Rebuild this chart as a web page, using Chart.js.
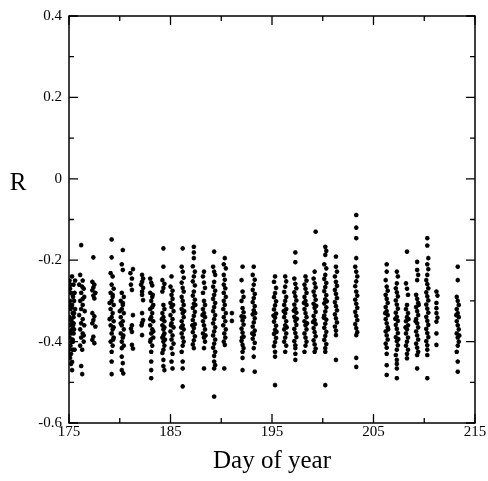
<!DOCTYPE html>
<html>
<head>
<meta charset="utf-8">
<script src="https://cdn.jsdelivr.net/npm/chart.js@4/dist/chart.umd.min.js"></script>
<style>
html,body{margin:0;padding:0;background:#fff;}
canvas{display:block;}
</style>
</head>
<body>
<canvas id="c" width="488" height="481"></canvas>
<script>
// ---- tick labels ----
const xTicks = [175, 185, 195, 205, 215];
const xMinor = [180, 190, 200, 210];
const yTicks = [-0.6, -0.4, -0.2, 0, 0.2, 0.4];
const yMinor = [-0.5, -0.3, -0.1, 0.1, 0.3];

// ---- observations: [day of year, R] grouped by day ----
const day175 = [[175.05,-0.25],[175.1,-0.27],[175.3,-0.24],[175.45,-0.26],[175.2,-0.28],[175.4,-0.29],[175.1,-0.30],[175.3,-0.31],[175.5,-0.30],[175.15,-0.32],[175.35,-0.33],[175.05,-0.34],[175.25,-0.35],[175.45,-0.34],[175.1,-0.36],[175.3,-0.37],[175.2,-0.38],[175.4,-0.36],[175.05,-0.39],[175.25,-0.40],[175.45,-0.38],[175.15,-0.41],[175.35,-0.42],[175.2,-0.43],[175.4,-0.40],[175.1,-0.44],[175.3,-0.45],[175.5,-0.33],[175.55,-0.28],[175.15,-0.26],[175.35,-0.285],[175.25,-0.315],[175.45,-0.355],[175.05,-0.375],[175.35,-0.395],[175.2,-0.345],[175.6,-0.25],[175.55,-0.42],[175.3,-0.47],[175.2,-0.455],[175.5,-0.37],[175.0,-0.31],[175.6,-0.32],[175.0,-0.42]];
const day176 = [[176.2,-0.163],[176.1,-0.236],[176.35,-0.25],[176.0,-0.26],[176.45,-0.27],[176.2,-0.28],[176.5,-0.29],[176.1,-0.30],[176.35,-0.31],[176.2,-0.32],[176.55,-0.325],[176.0,-0.335],[176.35,-0.345],[176.2,-0.355],[176.5,-0.36],[176.1,-0.37],[176.35,-0.38],[176.2,-0.39],[176.45,-0.40],[176.1,-0.41],[176.35,-0.295],[176.3,-0.265],[176.45,-0.385],[176.3,-0.42],[176.2,-0.46],[176.3,-0.48]];
const day177 = [[177.4,-0.193],[177.3,-0.253],[177.5,-0.26],[177.4,-0.267],[177.3,-0.274],[177.6,-0.28],[177.4,-0.287],[177.5,-0.294],[177.3,-0.33],[177.5,-0.338],[177.4,-0.347],[177.3,-0.355],[177.6,-0.363],[177.4,-0.388],[177.3,-0.396],[177.5,-0.404]];
const day179 = [[179.2,-0.149],[179.2,-0.193],[179.1,-0.232],[179.3,-0.24],[179.2,-0.26],[179.4,-0.27],[179.1,-0.28],[179.3,-0.29],[179.2,-0.30],[179.4,-0.31],[179.1,-0.32],[179.3,-0.33],[179.2,-0.34],[179.4,-0.35],[179.1,-0.36],[179.3,-0.37],[179.2,-0.38],[179.4,-0.39],[179.1,-0.40],[179.3,-0.41],[179.2,-0.425],[179.3,-0.285],[179.0,-0.345],[179.4,-0.365],[179.2,-0.449],[179.2,-0.48],[179.0,-0.305],[179.35,-0.395]];
const day180 = [[180.3,-0.175],[180.2,-0.21],[180.3,-0.224],[180.2,-0.28],[180.4,-0.29],[180.1,-0.30],[180.3,-0.31],[180.2,-0.32],[180.4,-0.33],[180.1,-0.34],[180.3,-0.35],[180.2,-0.36],[180.4,-0.37],[180.1,-0.38],[180.3,-0.39],[180.2,-0.40],[180.4,-0.41],[180.2,-0.416],[180.3,-0.305],[180.1,-0.355],[180.2,-0.437],[180.3,-0.453],[180.2,-0.47],[180.35,-0.478],[180.0,-0.325],[180.35,-0.385]];
const day181 = [[181.05,-0.232],[181.3,-0.222],[181.2,-0.245],[181.1,-0.26],[181.2,-0.273],[181.3,-0.335],[181.2,-0.36],[181.1,-0.368],[181.2,-0.376],[181.2,-0.408],[181.3,-0.417]];
const day182 = [[182.2,-0.236],[182.3,-0.245],[182.2,-0.253],[182.1,-0.26],[182.3,-0.268],[182.2,-0.277],[182.2,-0.285],[182.3,-0.298],[182.2,-0.33],[182.3,-0.347],[182.2,-0.354],[182.15,-0.36],[182.2,-0.384]];
const day183 = [[183.0,-0.245],[183.1,-0.255],[183.2,-0.262],[183.0,-0.28],[183.2,-0.29],[183.1,-0.30],[183.3,-0.31],[183.0,-0.32],[183.2,-0.33],[183.1,-0.34],[183.3,-0.35],[183.0,-0.36],[183.2,-0.37],[183.1,-0.38],[183.3,-0.39],[183.0,-0.40],[183.2,-0.41],[183.1,-0.425],[183.2,-0.315],[183.0,-0.345],[183.3,-0.375],[183.1,-0.449],[183.1,-0.47],[183.1,-0.49],[183.25,-0.285],[183.05,-0.395]];
const day184 = [[184.3,-0.171],[184.3,-0.216],[184.2,-0.249],[184.4,-0.258],[184.3,-0.268],[184.2,-0.277],[184.3,-0.31],[184.4,-0.32],[184.2,-0.33],[184.3,-0.34],[184.4,-0.35],[184.2,-0.36],[184.3,-0.37],[184.4,-0.38],[184.2,-0.39],[184.3,-0.40],[184.4,-0.41],[184.3,-0.42],[184.2,-0.428],[184.4,-0.365],[184.3,-0.385],[184.3,-0.445],[184.3,-0.46],[184.4,-0.47],[184.15,-0.345],[184.45,-0.395]];
const day185 = [[185.1,-0.24],[185.0,-0.265],[185.2,-0.275],[185.1,-0.285],[185.2,-0.295],[185.0,-0.305],[185.1,-0.315],[185.3,-0.325],[185.0,-0.335],[185.2,-0.345],[185.1,-0.355],[185.3,-0.365],[185.0,-0.375],[185.2,-0.385],[185.1,-0.395],[185.3,-0.405],[185.1,-0.416],[185.2,-0.43],[185.1,-0.449],[185.2,-0.466],[185.25,-0.31],[185.05,-0.36]];
const day186 = [[186.2,-0.171],[186.1,-0.216],[186.2,-0.228],[186.3,-0.243],[186.1,-0.255],[186.2,-0.268],[186.3,-0.277],[186.1,-0.29],[186.2,-0.30],[186.3,-0.31],[186.1,-0.32],[186.2,-0.33],[186.3,-0.34],[186.1,-0.35],[186.2,-0.36],[186.3,-0.37],[186.1,-0.38],[186.2,-0.39],[186.3,-0.40],[186.2,-0.41],[186.1,-0.425],[186.2,-0.449],[186.2,-0.466],[186.2,-0.51],[186.35,-0.325],[186.05,-0.365]];
const day187 = [[187.3,-0.167],[187.3,-0.181],[187.3,-0.195],[187.2,-0.215],[187.4,-0.228],[187.3,-0.24],[187.2,-0.252],[187.4,-0.262],[187.3,-0.277],[187.2,-0.287],[187.4,-0.297],[187.3,-0.307],[187.2,-0.317],[187.4,-0.327],[187.3,-0.337],[187.2,-0.347],[187.4,-0.357],[187.3,-0.367],[187.2,-0.377],[187.4,-0.387],[187.3,-0.397],[187.2,-0.407],[187.3,-0.416],[187.45,-0.31],[187.15,-0.36]];
const day188 = [[188.3,-0.228],[188.2,-0.24],[188.3,-0.255],[188.4,-0.268],[188.2,-0.28],[188.3,-0.30],[188.4,-0.31],[188.2,-0.32],[188.3,-0.33],[188.4,-0.34],[188.2,-0.35],[188.3,-0.36],[188.4,-0.37],[188.2,-0.38],[188.3,-0.39],[188.4,-0.40],[188.3,-0.416],[188.3,-0.466],[188.15,-0.335],[188.45,-0.385]];
const day189 = [[189.3,-0.179],[189.2,-0.216],[189.3,-0.228],[189.4,-0.236],[189.3,-0.253],[189.2,-0.265],[189.4,-0.275],[189.3,-0.285],[189.2,-0.295],[189.4,-0.305],[189.3,-0.315],[189.2,-0.325],[189.4,-0.335],[189.3,-0.345],[189.2,-0.355],[189.4,-0.365],[189.3,-0.375],[189.2,-0.385],[189.4,-0.395],[189.3,-0.405],[189.2,-0.415],[189.4,-0.425],[189.3,-0.435],[189.3,-0.449],[189.4,-0.458],[189.3,-0.466],[189.3,-0.535]];
const day190 = [[190.35,-0.195],[190.25,-0.21],[190.45,-0.22],[190.25,-0.236],[190.35,-0.248],[190.25,-0.26],[190.4,-0.269],[190.25,-0.28],[190.45,-0.29],[190.25,-0.30],[190.35,-0.31],[190.2,-0.32],[190.45,-0.33],[190.25,-0.34],[190.4,-0.35],[190.2,-0.36],[190.45,-0.37],[190.3,-0.38],[190.4,-0.39],[190.25,-0.40],[190.35,-0.408],[190.3,-0.466]];
const day191 = [[191.05,-0.33],[191.05,-0.349]];
const day192 = [[192.1,-0.216],[192.0,-0.249],[192.1,-0.277],[192.2,-0.29],[192.0,-0.30],[192.1,-0.318],[192.2,-0.328],[192.0,-0.338],[192.1,-0.348],[192.2,-0.358],[192.0,-0.368],[192.1,-0.378],[192.2,-0.388],[192.0,-0.398],[192.1,-0.408],[192.2,-0.416],[192.1,-0.425],[192.1,-0.44],[192.1,-0.47],[192.25,-0.34],[192.05,-0.39]];
const day193 = [[193.2,-0.216],[193.1,-0.236],[193.3,-0.248],[193.2,-0.26],[193.1,-0.273],[193.3,-0.283],[193.2,-0.293],[193.1,-0.303],[193.3,-0.313],[193.2,-0.323],[193.1,-0.333],[193.3,-0.343],[193.2,-0.353],[193.1,-0.363],[193.3,-0.373],[193.2,-0.383],[193.1,-0.393],[193.3,-0.403],[193.2,-0.416],[193.2,-0.437],[193.3,-0.474],[193.35,-0.33],[193.05,-0.38]];
const day195 = [[195.3,-0.24],[195.2,-0.253],[195.4,-0.268],[195.3,-0.281],[195.2,-0.291],[195.4,-0.301],[195.3,-0.311],[195.2,-0.321],[195.4,-0.331],[195.3,-0.341],[195.2,-0.351],[195.4,-0.361],[195.3,-0.371],[195.2,-0.381],[195.4,-0.391],[195.3,-0.401],[195.2,-0.411],[195.3,-0.425],[195.3,-0.437],[195.3,-0.507],[195.15,-0.336],[195.45,-0.376]];
const day196 = [[196.3,-0.24],[196.4,-0.252],[196.3,-0.265],[196.2,-0.278],[196.4,-0.29],[196.3,-0.30],[196.2,-0.31],[196.4,-0.32],[196.3,-0.33],[196.2,-0.34],[196.4,-0.35],[196.3,-0.36],[196.2,-0.37],[196.4,-0.38],[196.3,-0.39],[196.2,-0.40],[196.4,-0.41],[196.3,-0.425],[196.15,-0.325],[196.45,-0.365]];
const day197 = [[197.3,-0.181],[197.3,-0.205],[197.2,-0.245],[197.3,-0.258],[197.4,-0.269],[197.2,-0.279],[197.3,-0.289],[197.4,-0.299],[197.2,-0.309],[197.3,-0.319],[197.4,-0.329],[197.2,-0.339],[197.3,-0.349],[197.4,-0.359],[197.2,-0.369],[197.3,-0.379],[197.4,-0.389],[197.2,-0.399],[197.3,-0.409],[197.3,-0.416],[197.3,-0.43],[197.3,-0.445],[197.15,-0.324],[197.45,-0.344]];
const day198 = [[198.3,-0.24],[198.4,-0.25],[198.2,-0.26],[198.3,-0.27],[198.4,-0.28],[198.2,-0.29],[198.3,-0.30],[198.4,-0.31],[198.2,-0.32],[198.3,-0.33],[198.4,-0.34],[198.2,-0.35],[198.3,-0.36],[198.4,-0.37],[198.2,-0.38],[198.3,-0.39],[198.4,-0.40],[198.3,-0.41],[198.2,-0.425],[198.15,-0.305],[198.45,-0.355]];
const day199 = [[199.3,-0.13],[199.2,-0.228],[199.1,-0.245],[199.2,-0.257],[199.3,-0.267],[199.1,-0.277],[199.2,-0.287],[199.3,-0.297],[199.1,-0.307],[199.2,-0.317],[199.3,-0.327],[199.1,-0.337],[199.2,-0.347],[199.3,-0.357],[199.1,-0.367],[199.2,-0.377],[199.3,-0.387],[199.1,-0.397],[199.2,-0.407],[199.3,-0.417],[199.2,-0.425],[199.35,-0.312],[199.05,-0.352]];
const day200 = [[200.25,-0.167],[200.35,-0.177],[200.25,-0.187],[200.15,-0.21],[200.35,-0.22],[200.25,-0.236],[200.15,-0.246],[200.35,-0.256],[200.25,-0.266],[200.15,-0.276],[200.35,-0.286],[200.25,-0.296],[200.15,-0.306],[200.35,-0.316],[200.25,-0.326],[200.15,-0.336],[200.35,-0.346],[200.25,-0.356],[200.15,-0.366],[200.35,-0.376],[200.25,-0.386],[200.15,-0.396],[200.35,-0.406],[200.25,-0.416],[200.25,-0.425],[200.25,-0.507],[200.4,-0.301],[200.1,-0.341]];
const day201 = [[201.3,-0.191],[201.3,-0.216],[201.4,-0.228],[201.2,-0.24],[201.3,-0.253],[201.4,-0.263],[201.2,-0.273],[201.3,-0.283],[201.4,-0.293],[201.2,-0.303],[201.3,-0.313],[201.4,-0.323],[201.2,-0.333],[201.3,-0.343],[201.4,-0.353],[201.2,-0.363],[201.3,-0.373],[201.3,-0.384],[201.3,-0.445]];
const day203 = [[203.3,-0.089],[203.3,-0.12],[203.3,-0.146],[203.3,-0.195],[203.2,-0.216],[203.3,-0.228],[203.4,-0.24],[203.3,-0.252],[203.2,-0.264],[203.3,-0.277],[203.4,-0.287],[203.2,-0.297],[203.3,-0.307],[203.4,-0.317],[203.2,-0.327],[203.3,-0.337],[203.4,-0.347],[203.2,-0.357],[203.3,-0.367],[203.4,-0.377],[203.3,-0.384],[203.3,-0.44],[203.3,-0.462]];
const day206 = [[206.3,-0.21],[206.3,-0.228],[206.2,-0.249],[206.3,-0.265],[206.4,-0.275],[206.2,-0.285],[206.3,-0.295],[206.4,-0.305],[206.2,-0.315],[206.3,-0.325],[206.4,-0.335],[206.2,-0.345],[206.3,-0.355],[206.4,-0.365],[206.2,-0.375],[206.3,-0.385],[206.4,-0.395],[206.2,-0.405],[206.3,-0.415],[206.3,-0.43],[206.3,-0.458],[206.3,-0.482],[206.15,-0.33],[206.45,-0.37]];
const day207 = [[207.3,-0.228],[207.4,-0.24],[207.3,-0.257],[207.2,-0.269],[207.3,-0.279],[207.4,-0.289],[207.2,-0.299],[207.3,-0.309],[207.4,-0.319],[207.2,-0.329],[207.3,-0.339],[207.4,-0.349],[207.2,-0.359],[207.3,-0.369],[207.4,-0.379],[207.2,-0.389],[207.3,-0.399],[207.4,-0.409],[207.3,-0.42],[207.2,-0.433],[207.3,-0.445],[207.3,-0.455],[207.3,-0.466],[207.3,-0.49],[207.15,-0.344],[207.45,-0.394]];
const day208 = [[208.3,-0.179],[208.2,-0.257],[208.3,-0.27],[208.4,-0.285],[208.3,-0.31],[208.2,-0.32],[208.4,-0.33],[208.3,-0.34],[208.2,-0.35],[208.4,-0.36],[208.3,-0.37],[208.2,-0.38],[208.4,-0.39],[208.3,-0.40],[208.2,-0.41],[208.4,-0.42],[208.3,-0.43],[208.3,-0.441],[208.15,-0.365],[208.45,-0.345]];
const day209 = [[209.3,-0.204],[209.3,-0.224],[209.4,-0.236],[209.3,-0.249],[209.2,-0.285],[209.3,-0.295],[209.4,-0.305],[209.2,-0.315],[209.3,-0.325],[209.4,-0.335],[209.2,-0.345],[209.3,-0.355],[209.4,-0.365],[209.2,-0.375],[209.3,-0.385],[209.4,-0.395],[209.2,-0.405],[209.3,-0.415],[209.4,-0.425],[209.3,-0.433],[209.3,-0.466],[209.15,-0.35],[209.45,-0.31]];
const day210 = [[210.3,-0.146],[210.3,-0.164],[210.4,-0.195],[210.3,-0.21],[210.4,-0.222],[210.3,-0.236],[210.2,-0.249],[210.3,-0.259],[210.4,-0.269],[210.2,-0.279],[210.3,-0.289],[210.4,-0.299],[210.2,-0.309],[210.3,-0.319],[210.4,-0.329],[210.2,-0.339],[210.3,-0.349],[210.4,-0.359],[210.2,-0.369],[210.3,-0.379],[210.4,-0.389],[210.2,-0.399],[210.3,-0.409],[210.3,-0.42],[210.3,-0.433],[210.3,-0.49]];
const day211 = [[211.2,-0.277],[211.3,-0.287],[211.2,-0.305],[211.2,-0.318],[211.2,-0.33],[211.3,-0.341],[211.2,-0.351],[211.2,-0.38],[211.2,-0.408]];
const day213 = [[213.3,-0.216],[213.3,-0.249],[213.2,-0.29],[213.3,-0.30],[213.4,-0.31],[213.2,-0.32],[213.3,-0.33],[213.4,-0.34],[213.2,-0.35],[213.3,-0.36],[213.4,-0.37],[213.2,-0.38],[213.3,-0.39],[213.4,-0.40],[213.3,-0.41],[213.2,-0.425],[213.3,-0.449],[213.3,-0.474],[213.15,-0.335],[213.45,-0.385]];

const allDays = [day175,day176,day177,day179,day180,day181,day182,day183,day184,day185,day186,day187,day188,day189,day190,day191,day192,day193,day195,day196,day197,day198,day199,day200,day201,day203,day206,day207,day208,day209,day210,day211,day213];
const points = [];
allDays.forEach(arr => arr.forEach(p => points.push({x: p[0], y: p[1]})));

const SERIF = '"Liberation Serif", "Times New Roman", Times, serif';

const frameTicks = {
  id: 'frameTicks',
  afterDraw(chart) {
    const {ctx, chartArea: a, scales: {x, y}} = chart;
    ctx.save();
    ctx.strokeStyle = '#000';
    ctx.lineWidth = 1.5;
    ctx.strokeRect(a.left, a.top, a.right - a.left, a.bottom - a.top);
    ctx.lineWidth = 1.3;
    const major = 9, minor = 5;
    ctx.beginPath();
    const xt = (v, L) => {
      const px = x.getPixelForValue(v);
      ctx.moveTo(px, a.bottom); ctx.lineTo(px, a.bottom - L);
      ctx.moveTo(px, a.top); ctx.lineTo(px, a.top + L);
    };
    const yt = (v, L) => {
      const py = y.getPixelForValue(v);
      ctx.moveTo(a.left, py); ctx.lineTo(a.left + L, py);
      ctx.moveTo(a.right, py); ctx.lineTo(a.right - L, py);
    };
    xTicks.forEach(v => xt(v, major));
    xMinor.forEach(v => xt(v, minor));
    yTicks.forEach(v => yt(v, major));
    yMinor.forEach(v => yt(v, minor));
    ctx.stroke();
    ctx.fillStyle = '#000';
    ctx.font = '25px ' + SERIF;
    ctx.textAlign = 'center';
    ctx.textBaseline = 'alphabetic';
    ctx.fillText('R', 18, y.getPixelForValue(0) + 11);
    ctx.restore();
  }
};

new Chart(document.getElementById('c'), {
  type: 'scatter',
  data: {
    datasets: [{
      data: points,
      pointStyle: 'star',
      radius: 2.3,
      borderWidth: 1.4,
      borderColor: '#000',
      backgroundColor: '#000'
    }]
  },
  options: {
    responsive: false,
    animation: false,
    devicePixelRatio: 1,
    layout: { padding: { top: 16, right: 13, left: 0, bottom: 0 } },
    plugins: { legend: { display: false }, tooltip: { enabled: false } },
    scales: {
      x: {
        type: 'linear', position: 'bottom', min: 175, max: 215,
        grid: { display: false, drawTicks: false },
        border: { display: false },
        afterBuildTicks: s => { s.ticks = xTicks.map(v => ({ value: v })); },
        afterFit: s => { s.height = 58; },
        ticks: { color: '#000', padding: 0, maxRotation: 0, autoSkip: false, font: { family: SERIF, size: 15 } },
        title: { display: true, text: 'Day of year', color: '#000', font: { family: SERIF, size: 25 }, padding: { top: 0, bottom: 5 } }
      },
      y: {
        type: 'linear', min: -0.6, max: 0.4,
        grid: { display: false, drawTicks: false },
        border: { display: false },
        afterBuildTicks: s => { s.ticks = yTicks.map(v => ({ value: v })); },
        afterFit: s => { s.width = 69; },
        ticks: { color: '#000', padding: 7, autoSkip: false, font: { family: SERIF, size: 15 },
          callback: v => String(Math.round(v * 10) / 10) }
      }
    }
  },
  plugins: [frameTicks]
});
</script>
</body>
</html>
